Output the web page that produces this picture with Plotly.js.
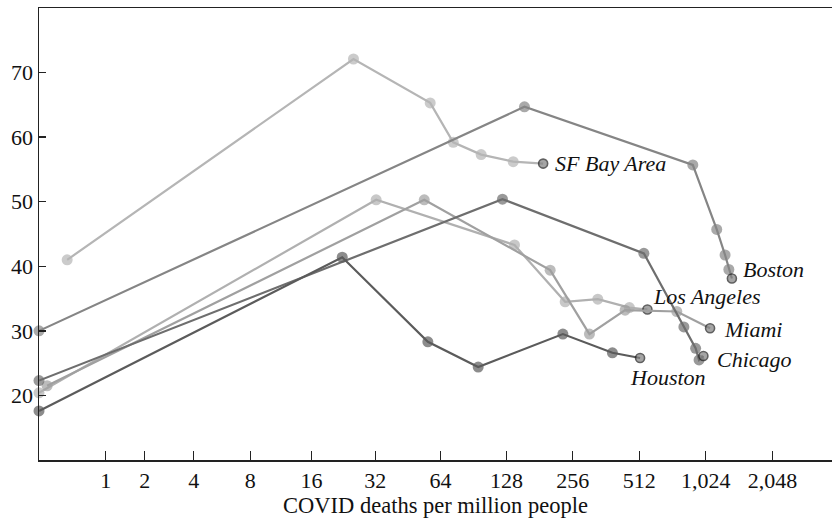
<!DOCTYPE html>
<html>
<head>
<meta charset="utf-8">
<script src="https://cdn.plot.ly/plotly-3.0.1.min.js"></script>
<style>html,body{margin:0;padding:0;background:#fff;}#chart{width:832px;height:520px;}</style>
</head>
<body>
<div id="chart"></div>
<script>
// COVID deaths per million (x) and y value for each metro area
const sfDeaths = [0.34, 25.3, 57.4, 73.2, 98.2, 137.4, 188];
const sfValues = [41.0, 72.1, 65.3, 59.2, 57.3, 56.2, 55.9];

const laDeaths = [0, 32.3, 139.3, 236.6, 332.6, 462.4, 557.8];
const laValues = [20.4, 50.3, 43.3, 34.5, 34.9, 33.6, 33.3];

const miamiDeaths = [0.088, 53.9, 202.3, 304.8, 442.2, 757.5, 1071];
const miamiValues = [21.5, 50.3, 39.4, 29.5, 33.2, 33.0, 30.4];

const bostonDeaths = [0, 154.6, 894.8, 1148, 1252, 1302, 1344];
const bostonValues = [30.0, 64.7, 55.7, 45.7, 41.75, 39.5, 38.1];

const chicagoDeaths = [0, 122.8, 537.6, 815.4, 921.3, 955, 999];
const chicagoValues = [22.3, 50.4, 42.0, 30.6, 27.3, 25.5, 26.1];

const houstonDeaths = [0, 22.4, 56.0, 95.2, 231, 387.3, 516.8];
const houstonValues = [17.6, 41.4, 28.3, 24.4, 29.5, 26.6, 25.8];

const cityNames = ["SF Bay Area", "Los Angeles", "Miami", "Boston", "Chicago", "Houston"];
const tickValuesDeaths = [1, 2, 4, 8, 16, 32, 64, 128, 256, 512, 1024, 2048];
const tickLabels = ["1", "2", "4", "8", "16", "32", "64", "128", "256", "512", "1,024", "2,048"];
const yTicks = [20, 30, 40, 50, 60, 70];

// pseudo-log scale: log2(deaths + 1)
const sx = d => Math.log2(d + 1);

const series = [
  {name: cityNames[0], xs: sfDeaths, ys: sfValues, color: "#b5b5b5", lx: 10, ly: 0, anchor: "left"},
  {name: cityNames[1], xs: laDeaths, ys: laValues, color: "#b0b0b0", lx: 4, ly: 13, anchor: "left"},
  {name: cityNames[2], xs: miamiDeaths, ys: miamiValues, color: "#a0a0a0", lx: 12, ly: -1, anchor: "left"},
  {name: cityNames[3], xs: bostonDeaths, ys: bostonValues, color: "#858585", lx: 9, ly: 9, anchor: "left"},
  {name: cityNames[4], xs: chicagoDeaths, ys: chicagoValues, color: "#6e6e6e", lx: 12, ly: -3, anchor: "left"},
  {name: cityNames[5], xs: houstonDeaths, ys: houstonValues, color: "#5b5b5b", lx: 28, ly: -20, anchor: "center"}
];

const serif = "Liberation Serif, Times New Roman, serif";

const traces = series.map(s => {
  const n = s.xs.length;
  const colors = s.xs.map((_, i) => i === n - 1 ? "#808080" : s.color);
  const sizes = s.xs.map((_, i) => i === n - 1 ? 9 : 11);
  const lw = s.xs.map((_, i) => i === n - 1 ? 1.6 : 0);
  return {
    type: "scatter",
    mode: "lines+markers",
    name: s.name,
    x: s.xs.map(sx),
    y: s.ys,
    line: {color: s.color, width: 2.2},
    marker: {color: colors, size: sizes, line: {color: "#1e1e1e", width: lw}},
    cliponaxis: false,
    hoverinfo: "skip"
  };
});

const annotations = series.map(s => {
  const n = s.xs.length;
  return {
    x: sx(s.xs[n - 1]), y: s.ys[n - 1], xref: "x", yref: "y",
    text: s.name, showarrow: false,
    xanchor: s.anchor, yanchor: "middle",
    xshift: s.lx, yshift: s.ly,
    font: {family: serif, size: 22, style: "italic", color: "#111"}
  };
});

const layout = {
  width: 832, height: 520,
  margin: {l: 39, r: 0, t: 8, b: 60},
  paper_bgcolor: "#fff", plot_bgcolor: "#fff",
  showlegend: false,
  font: {family: serif, size: 22, color: "#111"},
  xaxis: {
    range: [0, 11.895],
    tickvals: tickValuesDeaths.map(sx),
    ticktext: tickLabels,
    ticks: "inside", ticklen: 9, tickwidth: 1.3, tickcolor: "#222",
    showline: true, linecolor: "#222", linewidth: 1.5, mirror: true,
    showgrid: false, zeroline: false,
    tickfont: {family: serif, size: 22},
    title: {text: "COVID deaths per million people", font: {family: serif, size: 22.5}, standoff: 4}
  },
  yaxis: {
    range: [10, 80],
    tickvals: yTicks,
    ticks: "inside", ticklen: 7, tickwidth: 1.3, tickcolor: "#222",
    showline: true, linecolor: "#222", linewidth: 1.5,
    showgrid: false, zeroline: false,
    tickfont: {family: serif, size: 22}
  },
  annotations: annotations
};

Plotly.newPlot("chart", traces, layout, {displayModeBar: false, staticPlot: true});
</script>
</body>
</html>
